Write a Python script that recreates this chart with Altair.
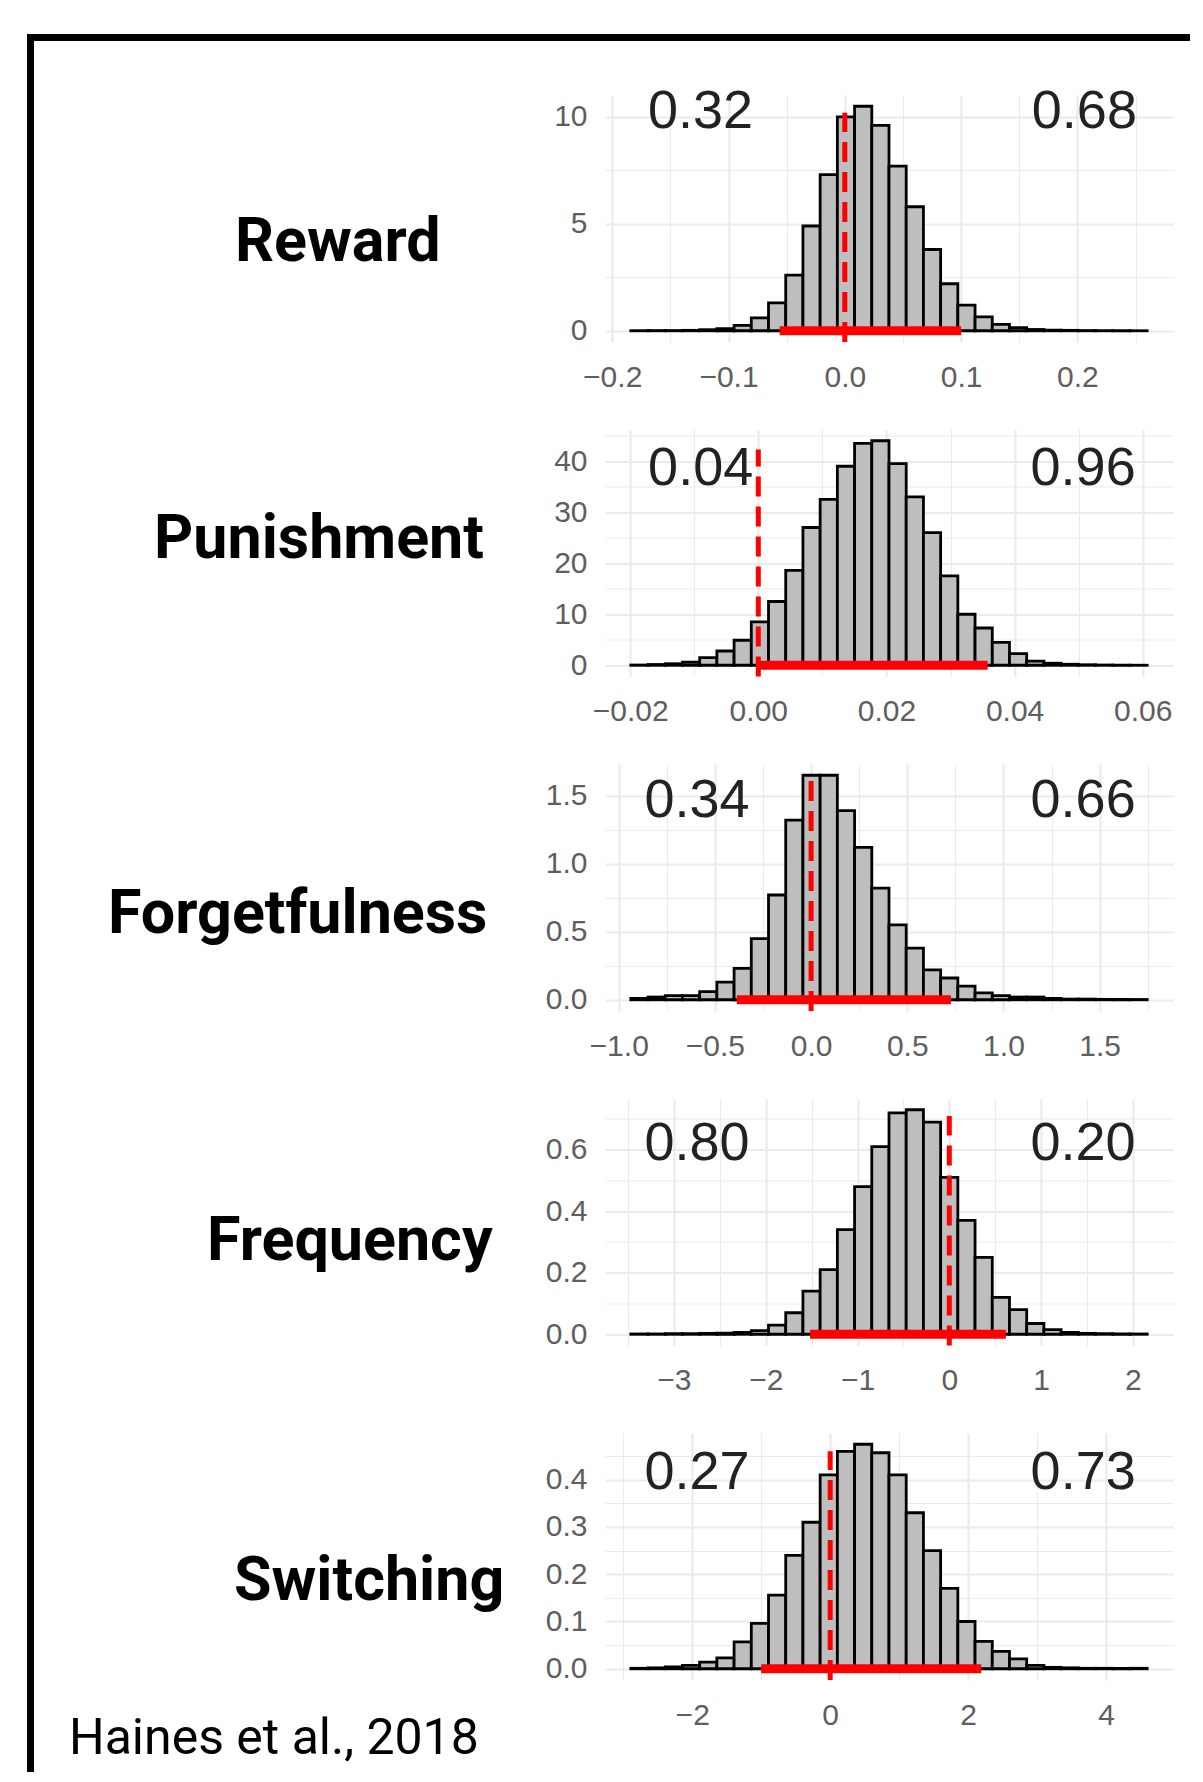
import altair as alt
import numpy as np
import pandas as pd

names = ["Reward", "Punishment", "Forgetfulness", "Frequency", "Switching"]
left_probs = ["0.32", "0.04", "0.34", "0.80", "0.27"]
right_probs = ["0.68", "0.96", "0.66", "0.20", "0.73"]

# histogram range (first and last bin edge), 30 bins each
bin_lo = [-0.184, -0.0199, -0.937, -3.47, -2.89]
bin_hi = [0.260, 0.0607, 1.747, 2.156, 4.595]

reward_density = [0.005, 0.01, 0.01, 0.02, 0.05, 0.1, 0.25, 0.6, 1.3, 2.6,
                  4.9, 7.3, 10.0, 10.5, 9.6, 7.7, 5.8, 3.8, 2.2, 1.2,
                  0.65, 0.3, 0.15, 0.06, 0.03, 0.02, 0.01, 0.005, 0.003, 0.002]
punishment_density = [0.05, 0.15, 0.3, 0.6, 1.5, 2.8, 4.9, 8.5, 12.5, 18.6,
                      27.0, 32.5, 39.0, 43.5, 44.0, 39.5, 33.0, 26.0, 17.5, 10.0,
                      7.3, 4.5, 2.3, 0.8, 0.4, 0.2, 0.1, 0.05, 0.02, 0.01]
forget_density = [0.01, 0.02, 0.03, 0.03, 0.06, 0.13, 0.23, 0.45, 0.77, 1.32,
                  1.65, 1.65, 1.39, 1.12, 0.82, 0.55, 0.38, 0.22, 0.16, 0.10,
                  0.05, 0.03, 0.02, 0.02, 0.01, 0.005, 0.005, 0.003, 0.002, 0.002]
freq_density = [0.001, 0.001, 0.002, 0.002, 0.003, 0.004, 0.006, 0.012, 0.03, 0.07,
                0.14, 0.21, 0.34, 0.48, 0.61, 0.72, 0.73, 0.69, 0.51, 0.37,
                0.25, 0.12, 0.08, 0.035, 0.015, 0.006, 0.003, 0.002, 0.001, 0.001]
switch_density = [0.001, 0.002, 0.004, 0.007, 0.014, 0.023, 0.057, 0.096, 0.156, 0.24,
                  0.31, 0.41, 0.46, 0.475, 0.457, 0.41, 0.33, 0.25, 0.17, 0.10,
                  0.058, 0.037, 0.021, 0.007, 0.003, 0.002, 0.001, 0.001, 0.001, 0.001]
densities = [reward_density, punishment_density, forget_density, freq_density, switch_density]

# credible interval (red bar) and reference line
ci_lo = [-0.056, 0.0, -0.386, -1.517, -1.0]
ci_hi = [0.100, 0.0358, 0.727, 0.616, 2.19]
ref_value = [0.0, 0.0, 0.0, 0.0, 0.0]
ref_top = [10.2, 42.3, 1.63, 0.71, 0.46]

# probability annotations (data coordinates)
prob_x_left = [-0.124, -0.009, -0.593, -2.749, -1.931]
prob_x_right = [0.206, 0.0507, 1.414, 1.457, 3.667]
prob_y = [10.23, 38.5, 1.458, 0.62, 0.415]

# axes
x_major = [[-0.2, -0.1, 0.0, 0.1, 0.2], [-0.02, 0.0, 0.02, 0.04, 0.06],
           [-1.0, -0.5, 0.0, 0.5, 1.0, 1.5], [-3, -2, -1, 0, 1, 2], [-2, 0, 2, 4]]
x_minor = [[-0.15, -0.05, 0.05, 0.15, 0.25], [-0.01, 0.01, 0.03, 0.05],
           [-0.75, -0.25, 0.25, 0.75, 1.25, 1.75], [-3.5, -2.5, -1.5, -0.5, 0.5, 1.5],
           [-3, -1, 1, 3]]
x_step = [0.1, 0.02, 0.5, 1, 2]
x_fmt = [".1f", ".2f", ".1f", "d", "d"]
y_major = [[0, 5, 10], [0, 10, 20, 30, 40], [0.0, 0.5, 1.0, 1.5],
           [0.0, 0.2, 0.4, 0.6], [0.0, 0.1, 0.2, 0.3, 0.4]]
y_minor = [[2.5, 7.5], [5, 15, 25, 35, 45], [0.25, 0.75, 1.25],
           [0.1, 0.3, 0.5, 0.7], [0.05, 0.15, 0.25, 0.35, 0.45]]
y_step = [5, 10, 0.5, 0.2, 0.1]
y_fmt = ["d", "d", ".1f", ".1f", ".1f"]

# row-label placement (pixels relative to each panel)
row_label_x = [-370, -451, -497, -398, -371]
row_label_y = [148, 110, 151, 143, 149]

W, H = 568, 247
NUM_FONT = "Liberation Sans, Arial, Helvetica, sans-serif"
LABEL_FONT = "Roboto, Liberation Sans, sans-serif"
RED = "#ff0000"


def make_axis(values, step, fmt, orient):
    test = f"abs(datum.value / {step} - round(datum.value / {step})) < 1e-6"
    return alt.Axis(
        values=values,
        labelExpr=f"({test}) ? format(datum.value, '{fmt}') : ''",
        title=None, ticks=False, domain=False, grid=True,
        gridColor="#ebebeb",
        gridWidth={"condition": {"test": test, "value": 2.2}, "value": 1.1},
        labelFont=NUM_FONT, labelFontSize=30, labelColor="#5e5e5e",
        labelPadding=20 if orient == "x" else 18,
        labelOverlap=False, labelFlush=False,
    )


panels = []
for i in range(5):
    lo, hi = bin_lo[i], bin_hi[i]
    dens = densities[i]
    edges = np.linspace(lo, hi, len(dens) + 1)
    df = pd.DataFrame({"x0": edges[:-1], "x1": edges[1:], "density": dens,
                       "base": [0.0] * len(dens)})
    ymax = max(dens)
    xr = hi - lo
    xscale = alt.Scale(domain=[lo - 0.05 * xr, hi + 0.05 * xr], nice=False, zero=False)
    yscale = alt.Scale(domain=[-0.05 * ymax, 1.05 * ymax], nice=False, zero=False)

    xaxis = make_axis(sorted(x_major[i] + x_minor[i]), x_step[i], x_fmt[i], "x")
    yaxis = make_axis(sorted(y_major[i] + y_minor[i]), y_step[i], y_fmt[i], "y")

    bars = alt.Chart(df).mark_rect(fill="#bebebe", stroke="black", strokeWidth=2.8).encode(
        x=alt.X("x0:Q", scale=xscale, axis=xaxis),
        x2="x1:Q",
        y=alt.Y("density:Q", scale=yscale, axis=yaxis),
        y2="base:Q",
    )

    ci_df = pd.DataFrame({"x0": [ci_lo[i]], "x1": [ci_hi[i]], "density": [0.0]})
    ci = alt.Chart(ci_df).mark_rule(color=RED, strokeWidth=9).encode(
        x=alt.X("x0:Q", axis=xaxis), x2="x1:Q", y=alt.Y("density:Q", axis=yaxis))

    ref_df = pd.DataFrame({"x0": [ref_value[i]], "density": [-0.05 * ymax],
                           "top": [ref_top[i]]})
    ref = alt.Chart(ref_df).mark_rule(color=RED, strokeWidth=5, strokeDash=[20, 10]).encode(
        x=alt.X("x0:Q", axis=xaxis), y=alt.Y("density:Q", axis=yaxis), y2="top:Q")

    lab_df = pd.DataFrame({"x0": [prob_x_left[i], prob_x_right[i]],
                           "density": [prob_y[i], prob_y[i]],
                           "t": [left_probs[i], right_probs[i]]})
    probs = alt.Chart(lab_df).mark_text(font=NUM_FONT, fontSize=54, color="#222222",
                                        align="center", baseline="middle").encode(
        x=alt.X("x0:Q", axis=xaxis), y=alt.Y("density:Q", axis=yaxis), text="t:N")

    row_df = pd.DataFrame({"t": [names[i]]})
    row = alt.Chart(row_df).mark_text(font=LABEL_FONT, fontSize=61, fontWeight="bold",
                                      color="black", align="left", baseline="middle").encode(
        x=alt.value(row_label_x[i]), y=alt.value(row_label_y[i]), text="t:N")

    layers = [bars, ci, ref, probs, row]

    if i == 0:
        frame_df = pd.DataFrame({"k": [0]})
        top_border = alt.Chart(frame_df).mark_rect(color="black").encode(
            x=alt.value(-578), x2=alt.value(585), y=alt.value(-61), y2=alt.value(-54))
        left_border = alt.Chart(frame_df).mark_rect(color="black").encode(
            x=alt.value(-578), x2=alt.value(-571), y=alt.value(-61), y2=alt.value(1677))
        layers += [top_border, left_border]
    if i == 4:
        cite_df = pd.DataFrame({"t": ["Haines et al., 2018"]})
        cite = alt.Chart(cite_df).mark_text(font=LABEL_FONT, fontSize=50, color="black",
                                            align="left", baseline="alphabetic").encode(
            x=alt.value(-536), y=alt.value(321), text="t:N")
        layers.append(cite)

    panels.append(alt.layer(*layers).properties(width=W, height=H))

chart = alt.vconcat(*panels, spacing=87.5, bounds="flush").properties(
    padding={"left": 19, "top": 26, "right": 0, "bottom": 0},
    background="white",
).configure_view(strokeWidth=0)

chart.save("out.html", embed_options={"renderer": "svg", "actions": False})
